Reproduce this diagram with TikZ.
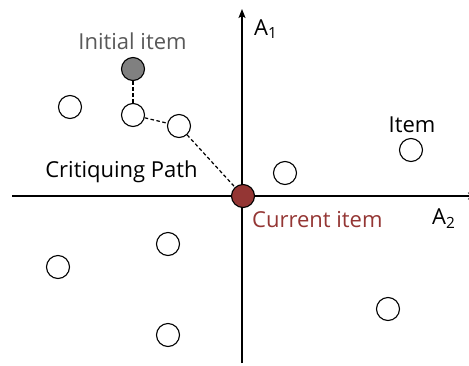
\documentclass[tikz,border=0pt]{standalone}
\usepackage{fontspec}
\setmainfont{Open Sans}
\usetikzlibrary{arrows.meta}
\definecolor{curred}{RGB}{148,54,52}
\definecolor{initgray}{RGB}{128,128,128}
\definecolor{labgray}{RGB}{89,89,89}

\begin{document}
\begin{tikzpicture}[x=1pt,y=-1pt,
    item/.style={circle,draw,line width=1.1pt,fill=white,minimum size=23pt,inner sep=0pt},
    txt/.style={font=\fontsize{22}{26}\selectfont,inner sep=0pt},
    path/.style={dashed,line width=1.2pt,dash pattern=on 3.5pt off 2.5pt}]
\useasboundingbox (0,0) rectangle (469,365);
% axes
\coordinate (xl) at (12,196);
\coordinate (xr) at (477,196);
\coordinate (yb) at (242,363);
\coordinate (yt) at (242,9);
\draw[line width=1.4pt,-{Stealth[length=9pt,width=7pt,inset=2pt]}] (yb) -- (yt);
\draw[line width=1.4pt,-{Stealth[length=9pt,width=7pt,inset=2pt]}] (xl) -- (xr);
\node[txt,anchor=base west] (a1) at (254,35) {A\textsubscript{1}};
\node[txt,anchor=base west] (a2) at (432,224) {A\textsubscript{2}};
% items
\node[item] (i1) at (70,107) {};
\node[item] (p1) at (133,115) {};
\node[item] (p2) at (179,126) {};
\node[item] (i2) at (285,173) {};
\node[item] (i3) at (411,150) {};
\node[item] (i4) at (168,244) {};
\node[item] (i5) at (58,267) {};
\node[item] (i6) at (168,335) {};
\node[item] (i7) at (388,309) {};
\node[item,fill=initgray] (init) at (133,69) {};
\node[item,fill=curred] (cur) at (243,196) {};
% labels
\node[txt,text=labgray,anchor=base] (initlab) at (132.5,49) {Initial item};
\node[txt,anchor=base] (itemlab) at (412,132) {Item};
\node[txt,text=curred,anchor=base west] (curlab) at (252,227) {Current item};
\node[txt,anchor=base] (crit) at (121.5,177) {Critiquing Path};
% critiquing path
\draw[path] (init) -- (p1);
\draw[path] (p1) -- (p2);
\draw[path] (p2) -- (cur);
\end{tikzpicture}
\end{document}
